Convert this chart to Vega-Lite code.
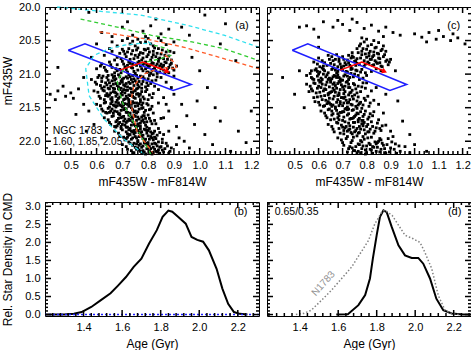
{
"$schema":"https://vega.github.io/schema/vega-lite/v6.json",
"background":"white",
"padding":{"left":0,"top":0,"right":1,"bottom":0},
"config":{"view":{"stroke":"black","strokeWidth":1},"font":"Liberation Sans",
"axis":{"domain":false,"grid":false,"ticks":false,"labelFontSize":11,"titleFontSize":12,"titleFontWeight":"normal","labelColor":"black","titleColor":"black","labelOverlap":false,"labelFlush":false,"labelBound":false,"labelFont":"Liberation Sans","titleFont":"Liberation Sans"}},
"datasets":{
"xaM":[{"v":0.5},{"v":0.6},{"v":0.7},{"v":0.8},{"v":0.9},{"v":1.0},{"v":1.1},{"v":1.2}],
"xcM":[{"v":0.4},{"v":0.5},{"v":0.6},{"v":0.7},{"v":0.8},{"v":0.9},{"v":1.0},{"v":1.1},{"v":1.2}],
"xam":[{"v":0.42},{"v":0.44},{"v":0.46},{"v":0.48},{"v":0.52},{"v":0.54},{"v":0.56},{"v":0.58},{"v":0.62},{"v":0.64},{"v":0.66},{"v":0.68},{"v":0.72},{"v":0.74},{"v":0.76},{"v":0.78},{"v":0.82},{"v":0.84},{"v":0.86},{"v":0.88},{"v":0.92},{"v":0.94},{"v":0.96},{"v":0.98},{"v":1.02},{"v":1.04},{"v":1.06},{"v":1.08},{"v":1.12},{"v":1.14},{"v":1.16},{"v":1.18},{"v":1.22}],
"ymM":[{"v":20.5},{"v":21.0},{"v":21.5},{"v":22.0}],
"ymm":[{"v":20.1},{"v":20.2},{"v":20.3},{"v":20.4},{"v":20.6},{"v":20.7},{"v":20.8},{"v":20.9},{"v":21.1},{"v":21.2},{"v":21.3},{"v":21.4},{"v":21.6},{"v":21.7},{"v":21.8},{"v":21.9},{"v":22.1}],
"agM":[{"v":1.4},{"v":1.6},{"v":1.8},{"v":2.0},{"v":2.2}],
"agm":[{"v":1.24},{"v":1.28},{"v":1.32},{"v":1.36},{"v":1.44},{"v":1.48},{"v":1.52},{"v":1.56},{"v":1.64},{"v":1.68},{"v":1.72},{"v":1.76},{"v":1.84},{"v":1.88},{"v":1.92},{"v":1.96},{"v":2.04},{"v":2.08},{"v":2.12},{"v":2.16},{"v":2.24},{"v":2.28}],
"ydM":[{"v":0.0},{"v":0.5},{"v":1.0},{"v":1.5},{"v":2.0},{"v":2.5},{"v":3.0}],
"ydm":[{"v":0.1},{"v":0.2},{"v":0.3},{"v":0.4},{"v":0.6},{"v":0.7},{"v":0.8},{"v":0.9},{"v":1.1},{"v":1.2},{"v":1.3},{"v":1.4},{"v":1.6},{"v":1.7},{"v":1.8},{"v":1.9},{"v":2.1},{"v":2.2},{"v":2.3},{"v":2.4},{"v":2.6},{"v":2.7},{"v":2.8},{"v":2.9},{"v":3.1}],
"a_pts":[
{"c":0.62,"m":20.38},{"c":0.70,"m":20.30},{"c":0.74,"m":20.42},{"c":0.78,"m":20.36},{"c":0.81,"m":20.28},{"c":0.85,"m":20.40},{"c":0.72,"m":20.22},{"c":0.88,"m":20.33},{"c":0.66,"m":20.44},{"c":0.79,"m":20.44},{"c":0.83,"m":20.18},{"c":0.93,"m":20.30},{"c":1.02,"m":20.12},{"c":0.57,"m":20.08},{"c":1.10,"m":20.25},{"c":0.96,"m":20.42},
{"c":0.70,"m":20.50},{"c":0.73,"m":20.55},{"c":0.76,"m":20.48},{"c":0.79,"m":20.52},{"c":0.82,"m":20.58},{"c":0.85,"m":20.50},{"c":0.68,"m":20.58},{"c":0.75,"m":20.58},{"c":0.80,"m":20.47},{"c":0.87,"m":20.56},{"c":0.72,"m":20.47},{"c":0.77,"m":20.53},{"c":0.84,"m":20.46},{"c":0.66,"m":20.52},{"c":0.90,"m":20.52},{"c":0.81,"m":20.55},{"c":0.74,"m":20.51},
{"c":0.63,"m":20.72},{"c":0.66,"m":20.66},{"c":0.68,"m":20.75},{"c":0.70,"m":20.63},{"c":0.71,"m":20.70},{"c":0.73,"m":20.78},{"c":0.74,"m":20.65},{"c":0.75,"m":20.72},{"c":0.76,"m":20.61},{"c":0.77,"m":20.68},{"c":0.78,"m":20.76},{"c":0.79,"m":20.64},{"c":0.80,"m":20.71},{"c":0.81,"m":20.79},{"c":0.82,"m":20.66},{"c":0.83,"m":20.74},{"c":0.84,"m":20.62},{"c":0.85,"m":20.70},{"c":0.86,"m":20.77},{"c":0.87,"m":20.67},{"c":0.88,"m":20.73},{"c":0.89,"m":20.79},{"c":0.67,"m":20.79},{"c":0.72,"m":20.67},{"c":0.76,"m":20.75},{"c":0.80,"m":20.62},{"c":0.84,"m":20.78},{"c":0.65,"m":20.62},{"c":0.78,"m":20.69},{"c":0.82,"m":20.71},{"c":0.90,"m":20.68},{"c":0.69,"m":20.69},
{"c":0.60,"m":20.92},{"c":0.62,"m":20.85},{"c":0.64,"m":20.96},{"c":0.65,"m":20.82},{"c":0.66,"m":20.90},{"c":0.67,"m":20.98},{"c":0.68,"m":20.86},{"c":0.69,"m":20.93},{"c":0.70,"m":20.81},{"c":0.71,"m":20.89},{"c":0.72,"m":20.97},{"c":0.73,"m":20.84},{"c":0.74,"m":20.91},{"c":0.75,"m":20.99},{"c":0.76,"m":20.83},{"c":0.77,"m":20.88},{"c":0.78,"m":20.95},{"c":0.79,"m":20.82},{"c":0.80,"m":20.90},{"c":0.81,"m":20.86},{"c":0.82,"m":20.93},{"c":0.83,"m":20.88},{"c":0.84,"m":20.81},{"c":0.85,"m":20.92},{"c":0.86,"m":20.87},{"c":0.87,"m":20.96},{"c":0.88,"m":20.90},{"c":0.89,"m":20.84},{"c":0.90,"m":20.94},{"c":0.91,"m":20.88},{"c":0.80,"m":20.97},{"c":0.83,"m":20.95},{"c":0.85,"m":20.85},{"c":0.87,"m":20.83},{"c":0.79,"m":20.92},{"c":0.82,"m":20.84},{"c":0.86,"m":20.94},{"c":0.76,"m":20.94},{"c":0.72,"m":20.87},{"c":0.68,"m":20.95},{"c":0.63,"m":20.90},{"c":0.74,"m":20.85},{"c":0.81,"m":20.99},{"c":0.88,"m":20.98},{"c":0.78,"m":20.86},
{"c":0.58,"m":21.08},{"c":0.60,"m":21.15},{"c":0.61,"m":21.02},{"c":0.62,"m":21.11},{"c":0.63,"m":21.19},{"c":0.64,"m":21.05},{"c":0.65,"m":21.13},{"c":0.66,"m":21.01},{"c":0.67,"m":21.09},{"c":0.68,"m":21.17},{"c":0.69,"m":21.04},{"c":0.70,"m":21.12},{"c":0.71,"m":21.18},{"c":0.72,"m":21.06},{"c":0.73,"m":21.14},{"c":0.74,"m":21.02},{"c":0.75,"m":21.10},{"c":0.76,"m":21.16},{"c":0.77,"m":21.03},{"c":0.78,"m":21.11},{"c":0.79,"m":21.19},{"c":0.80,"m":21.07},{"c":0.81,"m":21.14},{"c":0.82,"m":21.01},{"c":0.83,"m":21.09},{"c":0.85,"m":21.05},{"c":0.87,"m":21.12},{"c":0.64,"m":21.16},{"c":0.67,"m":21.03},{"c":0.70,"m":21.08},{"c":0.72,"m":21.19},{"c":0.74,"m":21.12},{"c":0.76,"m":21.06},{"c":0.66,"m":21.10},{"c":0.69,"m":21.14},{"c":0.78,"m":21.04},{"c":0.80,"m":21.17},{"c":0.62,"m":21.06},{"c":0.73,"m":21.04},{"c":0.90,"m":21.03},
{"c":0.59,"m":21.25},{"c":0.61,"m":21.33},{"c":0.62,"m":21.21},{"c":0.63,"m":21.38},{"c":0.64,"m":21.29},{"c":0.65,"m":21.22},{"c":0.66,"m":21.35},{"c":0.67,"m":21.27},{"c":0.68,"m":21.39},{"c":0.69,"m":21.23},{"c":0.70,"m":21.31},{"c":0.71,"m":21.37},{"c":0.72,"m":21.24},{"c":0.73,"m":21.32},{"c":0.74,"m":21.28},{"c":0.75,"m":21.36},{"c":0.76,"m":21.21},{"c":0.77,"m":21.30},{"c":0.78,"m":21.34},{"c":0.79,"m":21.26},{"c":0.80,"m":21.38},{"c":0.82,"m":21.29},{"c":0.84,"m":21.23},{"c":0.65,"m":21.31},{"c":0.67,"m":21.22},{"c":0.69,"m":21.34},{"c":0.71,"m":21.28},{"c":0.73,"m":21.21},{"c":0.75,"m":21.25},{"c":0.68,"m":21.30},{"c":0.70,"m":21.26},{"c":0.72,"m":21.36},{"c":0.74,"m":21.33},{"c":0.63,"m":21.25},{"c":0.77,"m":21.38},{"c":0.86,"m":21.35},{"c":0.66,"m":21.39},{"c":0.76,"m":21.29},
{"c":0.60,"m":21.45},{"c":0.62,"m":21.52},{"c":0.63,"m":21.43},{"c":0.64,"m":21.58},{"c":0.65,"m":21.49},{"c":0.66,"m":21.41},{"c":0.67,"m":21.55},{"c":0.68,"m":21.47},{"c":0.69,"m":21.59},{"c":0.70,"m":21.42},{"c":0.71,"m":21.51},{"c":0.72,"m":21.57},{"c":0.73,"m":21.44},{"c":0.74,"m":21.53},{"c":0.75,"m":21.48},{"c":0.76,"m":21.56},{"c":0.77,"m":21.41},{"c":0.78,"m":21.50},{"c":0.79,"m":21.54},{"c":0.80,"m":21.46},{"c":0.82,"m":21.58},{"c":0.84,"m":21.43},{"c":0.66,"m":21.52},{"c":0.68,"m":21.56},{"c":0.70,"m":21.49},{"c":0.72,"m":21.45},{"c":0.74,"m":21.41},{"c":0.76,"m":21.47},{"c":0.71,"m":21.44},{"c":0.73,"m":21.58},{"c":0.69,"m":21.46},{"c":0.75,"m":21.55},{"c":0.65,"m":21.57},{"c":0.78,"m":21.43},{"c":0.67,"m":21.47},{"c":0.81,"m":21.52},
{"c":0.63,"m":21.65},{"c":0.65,"m":21.72},{"c":0.66,"m":21.63},{"c":0.67,"m":21.78},{"c":0.68,"m":21.69},{"c":0.69,"m":21.61},{"c":0.70,"m":21.75},{"c":0.71,"m":21.67},{"c":0.72,"m":21.79},{"c":0.73,"m":21.62},{"c":0.74,"m":21.71},{"c":0.75,"m":21.77},{"c":0.76,"m":21.64},{"c":0.77,"m":21.73},{"c":0.78,"m":21.68},{"c":0.79,"m":21.76},{"c":0.80,"m":21.61},{"c":0.81,"m":21.70},{"c":0.83,"m":21.74},{"c":0.85,"m":21.66},{"c":0.70,"m":21.64},{"c":0.72,"m":21.70},{"c":0.74,"m":21.66},{"c":0.76,"m":21.74},{"c":0.78,"m":21.62},{"c":0.71,"m":21.76},{"c":0.73,"m":21.69},{"c":0.75,"m":21.63},{"c":0.77,"m":21.78},{"c":0.69,"m":21.72},{"c":0.79,"m":21.66},{"c":0.68,"m":21.77},
{"c":0.67,"m":21.85},{"c":0.69,"m":21.92},{"c":0.70,"m":21.83},{"c":0.71,"m":21.98},{"c":0.72,"m":21.89},{"c":0.73,"m":21.81},{"c":0.74,"m":21.95},{"c":0.75,"m":21.87},{"c":0.76,"m":21.99},{"c":0.77,"m":21.82},{"c":0.78,"m":21.91},{"c":0.79,"m":21.97},{"c":0.80,"m":21.84},{"c":0.81,"m":21.93},{"c":0.82,"m":21.88},{"c":0.83,"m":21.96},{"c":0.84,"m":21.81},{"c":0.86,"m":21.90},{"c":0.74,"m":21.86},{"c":0.76,"m":21.84},{"c":0.78,"m":21.96},{"c":0.80,"m":21.92},{"c":0.72,"m":21.94},{"c":0.77,"m":21.88},{"c":0.79,"m":21.83},{"c":0.75,"m":21.93},{"c":0.81,"m":21.86},{"c":0.73,"m":21.90},{"c":0.82,"m":21.98},{"c":0.88,"m":21.85},
{"c":0.70,"m":22.05},{"c":0.72,"m":22.12},{"c":0.73,"m":22.03},{"c":0.74,"m":22.18},{"c":0.75,"m":22.09},{"c":0.76,"m":22.01},{"c":0.77,"m":22.15},{"c":0.78,"m":22.07},{"c":0.79,"m":22.19},{"c":0.80,"m":22.02},{"c":0.81,"m":22.11},{"c":0.82,"m":22.17},{"c":0.83,"m":22.04},{"c":0.84,"m":22.13},{"c":0.85,"m":22.08},{"c":0.86,"m":22.16},{"c":0.87,"m":22.03},{"c":0.89,"m":22.10},{"c":0.76,"m":22.10},{"c":0.78,"m":22.14},{"c":0.80,"m":22.06},{"c":0.82,"m":22.09},{"c":0.74,"m":22.06},{"c":0.79,"m":22.03},{"c":0.81,"m":22.17},{"c":0.77,"m":22.04},{"c":0.83,"m":22.15},{"c":0.84,"m":22.01},
{"c":0.42,"m":21.30},{"c":0.45,"m":21.25},{"c":0.48,"m":21.33},{"c":0.50,"m":21.28},{"c":0.53,"m":21.22},{"c":0.44,"m":21.38},{"c":0.51,"m":21.36},{"c":0.47,"m":21.18},{"c":0.55,"m":21.45},{"c":0.52,"m":21.60},{"c":0.56,"m":21.85},{"c":0.90,"m":21.30},{"c":0.93,"m":21.45},{"c":0.95,"m":21.62},{"c":0.98,"m":21.75},{"c":1.02,"m":21.90},{"c":1.05,"m":22.05},{"c":0.92,"m":21.95},{"c":0.96,"m":22.10},{"c":1.08,"m":21.70},{"c":1.12,"m":22.15},{"c":1.15,"m":21.85},{"c":1.18,"m":22.02},{"c":1.20,"m":21.55},{"c":0.88,"m":21.55},{"c":0.91,"m":21.78},{"c":0.94,"m":22.00},{"c":0.99,"m":21.40},{"c":1.03,"m":21.20},{"c":1.06,"m":21.50},{"c":0.60,"m":20.55},{"c":0.58,"m":20.75},{"c":0.55,"m":21.05},{"c":0.97,"m":20.75},{"c":1.00,"m":20.95},{"c":1.08,"m":20.55},{"c":1.14,"m":20.80},{"c":0.45,"m":20.90},{"c":0.88,"m":22.18},{"c":0.91,"m":22.05},{"c":0.86,"m":21.65},{"c":0.87,"m":21.45},{"c":0.89,"m":21.20},{"c":0.57,"m":21.55},{"c":0.59,"m":21.75},{"c":0.62,"m":21.95},
{"c":0.705,"m":20.66},{"c":0.715,"m":20.74},{"c":0.725,"m":20.62},{"c":0.735,"m":20.70},{"c":0.745,"m":20.77},{"c":0.755,"m":20.64},{"c":0.765,"m":20.71},{"c":0.775,"m":20.79},{"c":0.785,"m":20.63},{"c":0.795,"m":20.74},{"c":0.805,"m":20.67},{"c":0.815,"m":20.75},{"c":0.825,"m":20.61},{"c":0.835,"m":20.69},{"c":0.845,"m":20.76},{"c":0.855,"m":20.64},{"c":0.865,"m":20.72},{"c":0.875,"m":20.78},{"c":0.885,"m":20.66},{"c":0.695,"m":20.77},
{"c":0.615,"m":20.88},{"c":0.635,"m":20.94},{"c":0.655,"m":20.86},{"c":0.675,"m":20.92},{"c":0.695,"m":20.98},{"c":0.705,"m":20.85},{"c":0.715,"m":20.93},{"c":0.725,"m":20.82},{"c":0.735,"m":20.90},{"c":0.745,"m":20.96},{"c":0.755,"m":20.87},{"c":0.765,"m":20.81},{"c":0.775,"m":20.92},{"c":0.785,"m":20.84},{"c":0.795,"m":20.97},{"c":0.805,"m":20.88},{"c":0.815,"m":20.83},{"c":0.825,"m":20.91},{"c":0.835,"m":20.85},{"c":0.845,"m":20.97},{"c":0.855,"m":20.89},{"c":0.865,"m":20.82},{"c":0.875,"m":20.92},{"c":0.885,"m":20.86},{"c":0.895,"m":20.91},{"c":0.815,"m":20.95},{"c":0.845,"m":20.88},{"c":0.865,"m":20.99},{"c":0.795,"m":20.86},{"c":0.835,"m":20.99},
{"c":0.595,"m":21.12},{"c":0.605,"m":21.05},{"c":0.615,"m":21.17},{"c":0.625,"m":21.03},{"c":0.635,"m":21.13},{"c":0.645,"m":21.09},{"c":0.655,"m":21.18},{"c":0.665,"m":21.05},{"c":0.675,"m":21.14},{"c":0.685,"m":21.01},{"c":0.695,"m":21.10},{"c":0.705,"m":21.16},{"c":0.715,"m":21.04},{"c":0.725,"m":21.12},{"c":0.735,"m":21.08},{"c":0.745,"m":21.17},{"c":0.755,"m":21.02},{"c":0.765,"m":21.11},{"c":0.775,"m":21.15},{"c":0.785,"m":21.07},{"c":0.795,"m":21.13},{"c":0.805,"m":21.02},{"c":0.815,"m":21.10},{"c":0.825,"m":21.18},{"c":0.835,"m":21.04},{"c":0.645,"m":21.02},{"c":0.665,"m":21.15},{"c":0.685,"m":21.19},{"c":0.705,"m":21.06},{"c":0.725,"m":21.01},{"c":0.745,"m":21.07},{"c":0.765,"m":21.19},{"c":0.675,"m":21.07},{"c":0.715,"m":21.14},{"c":0.755,"m":21.13},
{"c":0.605,"m":21.27},{"c":0.615,"m":21.36},{"c":0.625,"m":21.24},{"c":0.635,"m":21.32},{"c":0.645,"m":21.21},{"c":0.655,"m":21.37},{"c":0.665,"m":21.26},{"c":0.675,"m":21.33},{"c":0.685,"m":21.22},{"c":0.695,"m":21.29},{"c":0.705,"m":21.38},{"c":0.715,"m":21.24},{"c":0.725,"m":21.31},{"c":0.735,"m":21.27},{"c":0.745,"m":21.35},{"c":0.755,"m":21.22},{"c":0.765,"m":21.33},{"c":0.775,"m":21.26},{"c":0.785,"m":21.37},{"c":0.795,"m":21.23},{"c":0.805,"m":21.31},{"c":0.815,"m":21.35},{"c":0.645,"m":21.33},{"c":0.665,"m":21.21},{"c":0.685,"m":21.36},{"c":0.705,"m":21.23},{"c":0.725,"m":21.38},{"c":0.745,"m":21.25},{"c":0.675,"m":21.28},{"c":0.695,"m":21.21},{"c":0.715,"m":21.33},{"c":0.735,"m":21.22},{"c":0.755,"m":21.30},{"c":0.655,"m":21.28},{"c":0.775,"m":21.21},
{"c":0.615,"m":21.47},{"c":0.625,"m":21.55},{"c":0.635,"m":21.42},{"c":0.645,"m":21.51},{"c":0.655,"m":21.44},{"c":0.665,"m":21.58},{"c":0.675,"m":21.49},{"c":0.685,"m":21.43},{"c":0.695,"m":21.54},{"c":0.705,"m":21.46},{"c":0.715,"m":21.57},{"c":0.725,"m":21.41},{"c":0.735,"m":21.50},{"c":0.745,"m":21.56},{"c":0.755,"m":21.43},{"c":0.765,"m":21.52},{"c":0.775,"m":21.46},{"c":0.785,"m":21.57},{"c":0.795,"m":21.44},{"c":0.805,"m":21.53},{"c":0.815,"m":21.48},{"c":0.655,"m":21.55},{"c":0.675,"m":21.42},{"c":0.695,"m":21.47},{"c":0.715,"m":21.52},{"c":0.735,"m":21.45},{"c":0.755,"m":21.58},{"c":0.775,"m":21.51},{"c":0.685,"m":21.59},{"c":0.705,"m":21.53},{"c":0.725,"m":21.48},{"c":0.745,"m":21.43},{"c":0.665,"m":21.46},{"c":0.765,"m":21.44},{"c":0.635,"m":21.57},
{"c":0.645,"m":21.68},{"c":0.655,"m":21.75},{"c":0.665,"m":21.62},{"c":0.675,"m":21.71},{"c":0.685,"m":21.66},{"c":0.695,"m":21.78},{"c":0.705,"m":21.63},{"c":0.715,"m":21.72},{"c":0.725,"m":21.67},{"c":0.735,"m":21.76},{"c":0.745,"m":21.61},{"c":0.755,"m":21.69},{"c":0.765,"m":21.77},{"c":0.775,"m":21.64},{"c":0.785,"m":21.72},{"c":0.795,"m":21.79},{"c":0.805,"m":21.66},{"c":0.815,"m":21.74},{"c":0.825,"m":21.69},{"c":0.705,"m":21.70},{"c":0.725,"m":21.61},{"c":0.745,"m":21.75},{"c":0.765,"m":21.67},{"c":0.785,"m":21.62},{"c":0.685,"m":21.74},{"c":0.715,"m":21.79},{"c":0.735,"m":21.64},{"c":0.755,"m":21.78},{"c":0.775,"m":21.70},{"c":0.695,"m":21.65},{"c":0.795,"m":21.71},{"c":0.675,"m":21.79},
{"c":0.685,"m":21.88},{"c":0.695,"m":21.81},{"c":0.705,"m":21.94},{"c":0.715,"m":21.86},{"c":0.725,"m":21.83},{"c":0.735,"m":21.97},{"c":0.745,"m":21.89},{"c":0.755,"m":21.82},{"c":0.765,"m":21.93},{"c":0.775,"m":21.86},{"c":0.785,"m":21.99},{"c":0.795,"m":21.88},{"c":0.805,"m":21.81},{"c":0.815,"m":21.95},{"c":0.825,"m":21.85},{"c":0.835,"m":21.91},{"c":0.845,"m":21.87},{"c":0.855,"m":21.97},{"c":0.725,"m":21.91},{"c":0.745,"m":21.84},{"c":0.765,"m":21.87},{"c":0.785,"m":21.82},{"c":0.805,"m":21.97},{"c":0.755,"m":21.95},{"c":0.775,"m":21.92},{"c":0.795,"m":21.84},{"c":0.715,"m":21.96},{"c":0.735,"m":21.85},{"c":0.815,"m":21.89},{"c":0.825,"m":21.94},
{"c":0.715,"m":22.08},{"c":0.725,"m":22.01},{"c":0.735,"m":22.14},{"c":0.745,"m":22.03},{"c":0.755,"m":22.12},{"c":0.765,"m":22.06},{"c":0.775,"m":22.18},{"c":0.785,"m":22.02},{"c":0.795,"m":22.11},{"c":0.805,"m":22.15},{"c":0.815,"m":22.04},{"c":0.825,"m":22.12},{"c":0.835,"m":22.07},{"c":0.845,"m":22.18},{"c":0.855,"m":22.02},{"c":0.865,"m":22.11},{"c":0.875,"m":22.07},{"c":0.885,"m":22.15},{"c":0.765,"m":22.13},{"c":0.785,"m":22.16},{"c":0.805,"m":22.08},{"c":0.825,"m":22.03},{"c":0.745,"m":22.17},{"c":0.795,"m":22.05},{"c":0.815,"m":22.19},{"c":0.775,"m":22.09},{"c":0.835,"m":22.16},{"c":0.855,"m":22.13},{"c":0.755,"m":22.04},{"c":0.845,"m":22.09}
],
"c_pts":[
{"c":0.52,"m":20.30},{"c":0.55,"m":20.28},{"c":0.58,"m":20.33},{"c":0.62,"m":20.22},{"c":0.66,"m":20.30},{"c":0.70,"m":20.26},{"c":0.73,"m":20.35},{"c":0.76,"m":20.23},{"c":0.79,"m":20.32},{"c":0.82,"m":20.27},{"c":0.85,"m":20.36},{"c":0.88,"m":20.30},{"c":0.91,"m":20.38},{"c":0.94,"m":20.42},{"c":0.68,"m":20.20},{"c":0.74,"m":20.18},{"c":0.87,"m":20.44},{"c":1.00,"m":20.40},{"c":1.03,"m":20.45},{"c":1.06,"m":20.38},{"c":1.09,"m":20.48},{"c":1.12,"m":20.44},{"c":1.15,"m":20.50},{"c":1.18,"m":20.46},{"c":1.21,"m":20.55},{"c":1.05,"m":20.52},{"c":1.10,"m":20.35},{"c":1.16,"m":20.40},{"c":0.60,"m":20.45},{"c":0.78,"m":20.46},
{"c":0.77,"m":20.58},{"c":0.79,"m":20.52},{"c":0.80,"m":20.63},{"c":0.82,"m":20.56},{"c":0.83,"m":20.67},{"c":0.84,"m":20.60},{"c":0.85,"m":20.53},{"c":0.86,"m":20.65},{"c":0.81,"m":20.69},{"c":0.78,"m":20.66},{"c":0.87,"m":20.58},{"c":0.76,"m":20.62},{"c":0.74,"m":20.68},{"c":0.88,"m":20.66},{"c":0.80,"m":20.48},{"c":0.83,"m":20.50},
{"c":0.58,"m":20.82},{"c":0.60,"m":20.76},{"c":0.62,"m":20.88},{"c":0.64,"m":20.72},{"c":0.65,"m":20.84},{"c":0.67,"m":20.78},{"c":0.68,"m":20.89},{"c":0.70,"m":20.74},{"c":0.71,"m":20.83},{"c":0.72,"m":20.79},{"c":0.73,"m":20.87},{"c":0.74,"m":20.73},{"c":0.75,"m":20.81},{"c":0.76,"m":20.77},{"c":0.77,"m":20.86},{"c":0.78,"m":20.71},{"c":0.79,"m":20.80},{"c":0.80,"m":20.75},{"c":0.81,"m":20.84},{"c":0.82,"m":20.78},{"c":0.83,"m":20.72},{"c":0.84,"m":20.82},{"c":0.85,"m":20.76},{"c":0.86,"m":20.88},{"c":0.87,"m":20.74},{"c":0.88,"m":20.81},{"c":0.89,"m":20.86},{"c":0.90,"m":20.78},{"c":0.79,"m":20.88},{"c":0.81,"m":20.73},{"c":0.83,"m":20.86},{"c":0.85,"m":20.70},{"c":0.76,"m":20.84},{"c":0.69,"m":20.85},{"c":0.66,"m":20.80},
{"c":0.55,"m":21.02},{"c":0.57,"m":20.95},{"c":0.58,"m":21.08},{"c":0.59,"m":20.92},{"c":0.60,"m":21.00},{"c":0.61,"m":21.06},{"c":0.62,"m":20.93},{"c":0.63,"m":21.04},{"c":0.64,"m":20.98},{"c":0.65,"m":21.09},{"c":0.66,"m":20.91},{"c":0.67,"m":21.03},{"c":0.68,"m":20.96},{"c":0.69,"m":21.07},{"c":0.70,"m":20.94},{"c":0.71,"m":21.01},{"c":0.72,"m":20.97},{"c":0.73,"m":21.05},{"c":0.74,"m":20.92},{"c":0.75,"m":21.00},{"c":0.76,"m":20.95},{"c":0.77,"m":21.08},{"c":0.78,"m":20.93},{"c":0.80,"m":21.02},{"c":0.82,"m":20.96},{"c":0.84,"m":20.92},{"c":0.62,"m":21.00},{"c":0.64,"m":21.08},{"c":0.66,"m":21.04},{"c":0.68,"m":21.01},{"c":0.70,"m":21.09},{"c":0.72,"m":21.03},{"c":0.67,"m":20.94},{"c":0.60,"m":21.09},{"c":0.57,"m":21.05},{"c":0.86,"m":20.95},
{"c":0.55,"m":21.15},{"c":0.57,"m":21.22},{"c":0.58,"m":21.13},{"c":0.59,"m":21.28},{"c":0.60,"m":21.18},{"c":0.61,"m":21.11},{"c":0.62,"m":21.25},{"c":0.63,"m":21.16},{"c":0.64,"m":21.29},{"c":0.65,"m":21.12},{"c":0.66,"m":21.21},{"c":0.67,"m":21.27},{"c":0.68,"m":21.14},{"c":0.69,"m":21.23},{"c":0.70,"m":21.19},{"c":0.71,"m":21.26},{"c":0.72,"m":21.11},{"c":0.73,"m":21.20},{"c":0.74,"m":21.24},{"c":0.75,"m":21.16},{"c":0.76,"m":21.28},{"c":0.78,"m":21.19},{"c":0.80,"m":21.13},{"c":0.82,"m":21.25},{"c":0.61,"m":21.20},{"c":0.63,"m":21.23},{"c":0.65,"m":21.27},{"c":0.67,"m":21.17},{"c":0.69,"m":21.12},{"c":0.71,"m":21.18},{"c":0.73,"m":21.28},{"c":0.66,"m":21.15},{"c":0.56,"m":21.26},{"c":0.84,"m":21.20},
{"c":0.58,"m":21.35},{"c":0.60,"m":21.42},{"c":0.61,"m":21.33},{"c":0.62,"m":21.48},{"c":0.63,"m":21.39},{"c":0.64,"m":21.31},{"c":0.65,"m":21.45},{"c":0.66,"m":21.37},{"c":0.67,"m":21.49},{"c":0.68,"m":21.32},{"c":0.69,"m":21.41},{"c":0.70,"m":21.47},{"c":0.71,"m":21.34},{"c":0.72,"m":21.43},{"c":0.73,"m":21.38},{"c":0.74,"m":21.46},{"c":0.75,"m":21.31},{"c":0.76,"m":21.40},{"c":0.77,"m":21.44},{"c":0.79,"m":21.36},{"c":0.81,"m":21.48},{"c":0.83,"m":21.39},{"c":0.64,"m":21.41},{"c":0.66,"m":21.46},{"c":0.68,"m":21.38},{"c":0.70,"m":21.35},{"c":0.72,"m":21.49},{"c":0.74,"m":21.33},{"c":0.69,"m":21.44},{"c":0.85,"m":21.45},
{"c":0.61,"m":21.55},{"c":0.63,"m":21.62},{"c":0.64,"m":21.53},{"c":0.65,"m":21.68},{"c":0.66,"m":21.59},{"c":0.67,"m":21.51},{"c":0.68,"m":21.65},{"c":0.69,"m":21.57},{"c":0.70,"m":21.69},{"c":0.71,"m":21.52},{"c":0.72,"m":21.61},{"c":0.73,"m":21.67},{"c":0.74,"m":21.54},{"c":0.75,"m":21.63},{"c":0.76,"m":21.58},{"c":0.77,"m":21.66},{"c":0.78,"m":21.51},{"c":0.79,"m":21.60},{"c":0.81,"m":21.64},{"c":0.83,"m":21.56},{"c":0.85,"m":21.68},{"c":0.70,"m":21.56},{"c":0.72,"m":21.53},{"c":0.74,"m":21.66},{"c":0.76,"m":21.51},{"c":0.68,"m":21.59},{"c":0.78,"m":21.69},{"c":0.87,"m":21.58},
{"c":0.64,"m":21.75},{"c":0.66,"m":21.82},{"c":0.68,"m":21.73},{"c":0.69,"m":21.88},{"c":0.70,"m":21.79},{"c":0.71,"m":21.71},{"c":0.72,"m":21.85},{"c":0.73,"m":21.77},{"c":0.74,"m":21.89},{"c":0.75,"m":21.72},{"c":0.76,"m":21.81},{"c":0.77,"m":21.87},{"c":0.78,"m":21.74},{"c":0.79,"m":21.83},{"c":0.80,"m":21.78},{"c":0.81,"m":21.86},{"c":0.82,"m":21.71},{"c":0.84,"m":21.80},{"c":0.86,"m":21.84},{"c":0.88,"m":21.76},{"c":0.73,"m":21.82},{"c":0.75,"m":21.86},{"c":0.77,"m":21.78},{"c":0.79,"m":21.72},{"c":0.71,"m":21.80},{"c":0.83,"m":21.88},{"c":0.90,"m":21.85},
{"c":0.68,"m":21.95},{"c":0.70,"m":22.02},{"c":0.72,"m":21.93},{"c":0.73,"m":22.08},{"c":0.74,"m":21.99},{"c":0.75,"m":22.14},{"c":0.76,"m":21.92},{"c":0.77,"m":22.05},{"c":0.78,"m":22.11},{"c":0.79,"m":21.97},{"c":0.80,"m":22.17},{"c":0.81,"m":22.03},{"c":0.82,"m":21.94},{"c":0.83,"m":22.09},{"c":0.84,"m":22.15},{"c":0.85,"m":22.00},{"c":0.86,"m":22.12},{"c":0.87,"m":22.06},{"c":0.88,"m":22.18},{"c":0.89,"m":21.96},{"c":0.90,"m":22.10},{"c":0.92,"m":22.04},{"c":0.94,"m":22.15},{"c":0.96,"m":22.08},{"c":0.98,"m":22.17},{"c":0.76,"m":22.18},{"c":0.80,"m":22.07},{"c":0.82,"m":22.13},{"c":0.78,"m":22.01},{"c":0.84,"m":22.04},{"c":0.86,"m":21.98},{"c":0.74,"m":22.10},{"c":0.91,"m":21.93},{"c":0.72,"m":22.16},
{"c":0.45,"m":21.05},{"c":0.50,"m":21.30},{"c":0.93,"m":21.40},{"c":0.95,"m":21.70},{"c":0.98,"m":21.90},{"c":1.00,"m":22.05},{"c":0.88,"m":21.30},{"c":0.60,"m":20.60},{"c":0.92,"m":20.95},{"c":1.05,"m":22.15},{"c":0.52,"m":20.95},{"c":0.54,"m":21.50},
{"c":0.775,"m":20.55},{"c":0.785,"m":20.62},{"c":0.795,"m":20.70},{"c":0.805,"m":20.58},{"c":0.815,"m":20.66},{"c":0.825,"m":20.74},{"c":0.835,"m":20.61},{"c":0.845,"m":20.69},{"c":0.855,"m":20.77},{"c":0.865,"m":20.63},{"c":0.875,"m":20.71},{"c":0.885,"m":20.79},{"c":0.805,"m":20.82},{"c":0.825,"m":20.87},{"c":0.845,"m":20.84},{"c":0.865,"m":20.89},{"c":0.815,"m":20.78},{"c":0.835,"m":20.80},{"c":0.855,"m":20.83},{"c":0.795,"m":20.85},{"c":0.775,"m":20.76},{"c":0.765,"m":20.68},{"c":0.755,"m":20.80},{"c":0.745,"m":20.75},{"c":0.895,"m":20.82},
{"c":0.595,"m":20.85},{"c":0.615,"m":20.80},{"c":0.635,"m":20.87},{"c":0.645,"m":20.78},{"c":0.665,"m":20.86},{"c":0.685,"m":20.81},{"c":0.695,"m":20.89},{"c":0.705,"m":20.78},{"c":0.715,"m":20.86},{"c":0.725,"m":20.83},{"c":0.735,"m":20.76},{"c":0.655,"m":20.74},{"c":0.675,"m":20.71},{"c":0.625,"m":20.83},{"c":0.705,"m":20.88},{"c":0.735,"m":20.89},{"c":0.605,"m":20.89},{"c":0.685,"m":20.77},{"c":0.725,"m":20.72},{"c":0.755,"m":20.87},
{"c":0.565,"m":20.99},{"c":0.575,"m":21.07},{"c":0.585,"m":20.94},{"c":0.595,"m":21.03},{"c":0.605,"m":20.97},{"c":0.615,"m":21.08},{"c":0.625,"m":20.95},{"c":0.635,"m":21.01},{"c":0.645,"m":21.06},{"c":0.655,"m":20.93},{"c":0.665,"m":21.02},{"c":0.675,"m":20.98},{"c":0.685,"m":21.05},{"c":0.695,"m":20.92},{"c":0.705,"m":21.03},{"c":0.715,"m":20.96},{"c":0.725,"m":21.08},{"c":0.735,"m":20.99},{"c":0.745,"m":21.04},{"c":0.755,"m":20.94},{"c":0.765,"m":21.02},{"c":0.775,"m":20.97},{"c":0.785,"m":21.06},{"c":0.795,"m":20.98},{"c":0.615,"m":20.91},{"c":0.655,"m":21.07},{"c":0.695,"m":21.09},{"c":0.735,"m":20.93},{"c":0.595,"m":20.96},{"c":0.675,"m":21.05},
{"c":0.565,"m":21.18},{"c":0.575,"m":21.25},{"c":0.585,"m":21.14},{"c":0.595,"m":21.21},{"c":0.605,"m":21.27},{"c":0.615,"m":21.15},{"c":0.625,"m":21.22},{"c":0.635,"m":21.12},{"c":0.645,"m":21.19},{"c":0.655,"m":21.26},{"c":0.665,"m":21.13},{"c":0.675,"m":21.21},{"c":0.685,"m":21.28},{"c":0.695,"m":21.16},{"c":0.705,"m":21.23},{"c":0.715,"m":21.12},{"c":0.725,"m":21.20},{"c":0.735,"m":21.27},{"c":0.745,"m":21.14},{"c":0.755,"m":21.22},{"c":0.765,"m":21.18},{"c":0.775,"m":21.26},{"c":0.785,"m":21.13},{"c":0.795,"m":21.21},{"c":0.605,"m":21.12},{"c":0.645,"m":21.28},{"c":0.685,"m":21.11},{"c":0.725,"m":21.15},{"c":0.665,"m":21.24},{"c":0.705,"m":21.29},
{"c":0.585,"m":21.41},{"c":0.595,"m":21.34},{"c":0.605,"m":21.46},{"c":0.615,"m":21.38},{"c":0.625,"m":21.32},{"c":0.635,"m":21.44},{"c":0.645,"m":21.36},{"c":0.655,"m":21.48},{"c":0.665,"m":21.33},{"c":0.675,"m":21.42},{"c":0.685,"m":21.47},{"c":0.695,"m":21.35},{"c":0.705,"m":21.43},{"c":0.715,"m":21.39},{"c":0.725,"m":21.31},{"c":0.735,"m":21.45},{"c":0.745,"m":21.37},{"c":0.755,"m":21.48},{"c":0.765,"m":21.34},{"c":0.775,"m":21.42},{"c":0.785,"m":21.46},{"c":0.795,"m":21.39},{"c":0.805,"m":21.33},{"c":0.815,"m":21.43},{"c":0.645,"m":21.43},{"c":0.685,"m":21.31},{"c":0.725,"m":21.42},{"c":0.765,"m":21.46},{"c":0.705,"m":21.36},{"c":0.625,"m":21.47},
{"c":0.625,"m":21.58},{"c":0.635,"m":21.65},{"c":0.645,"m":21.52},{"c":0.655,"m":21.61},{"c":0.665,"m":21.67},{"c":0.675,"m":21.54},{"c":0.685,"m":21.62},{"c":0.695,"m":21.57},{"c":0.705,"m":21.64},{"c":0.715,"m":21.51},{"c":0.725,"m":21.59},{"c":0.735,"m":21.66},{"c":0.745,"m":21.53},{"c":0.755,"m":21.61},{"c":0.765,"m":21.68},{"c":0.775,"m":21.56},{"c":0.785,"m":21.63},{"c":0.795,"m":21.55},{"c":0.805,"m":21.67},{"c":0.815,"m":21.59},{"c":0.825,"m":21.62},{"c":0.685,"m":21.68},{"c":0.725,"m":21.52},{"c":0.765,"m":21.59},{"c":0.705,"m":21.56},{"c":0.745,"m":21.65},{"c":0.655,"m":21.55},{"c":0.785,"m":21.69},
{"c":0.655,"m":21.78},{"c":0.665,"m":21.86},{"c":0.675,"m":21.72},{"c":0.685,"m":21.81},{"c":0.695,"m":21.76},{"c":0.705,"m":21.84},{"c":0.715,"m":21.78},{"c":0.725,"m":21.73},{"c":0.735,"m":21.87},{"c":0.745,"m":21.79},{"c":0.755,"m":21.84},{"c":0.765,"m":21.71},{"c":0.775,"m":21.82},{"c":0.785,"m":21.77},{"c":0.795,"m":21.89},{"c":0.805,"m":21.75},{"c":0.815,"m":21.82},{"c":0.825,"m":21.78},{"c":0.835,"m":21.85},{"c":0.845,"m":21.73},{"c":0.855,"m":21.81},{"c":0.865,"m":21.77},{"c":0.725,"m":21.83},{"c":0.765,"m":21.88},{"c":0.805,"m":21.86},{"c":0.745,"m":21.72},{"c":0.785,"m":21.74},{"c":0.705,"m":21.89},
{"c":0.695,"m":21.98},{"c":0.705,"m":22.06},{"c":0.715,"m":21.96},{"c":0.725,"m":22.11},{"c":0.735,"m":22.02},{"c":0.745,"m":21.94},{"c":0.755,"m":22.08},{"c":0.765,"m":22.15},{"c":0.775,"m":21.99},{"c":0.785,"m":22.07},{"c":0.795,"m":22.13},{"c":0.805,"m":21.95},{"c":0.815,"m":22.05},{"c":0.825,"m":22.18},{"c":0.835,"m":22.01},{"c":0.845,"m":22.09},{"c":0.855,"m":22.16},{"c":0.865,"m":22.03},{"c":0.875,"m":22.11},{"c":0.885,"m":22.05},{"c":0.895,"m":22.16},{"c":0.905,"m":22.01},{"c":0.915,"m":22.12},{"c":0.925,"m":22.18},{"c":0.935,"m":22.07},{"c":0.765,"m":22.04},{"c":0.795,"m":22.19},{"c":0.825,"m":22.08},{"c":0.855,"m":21.96},{"c":0.875,"m":22.17},{"c":0.745,"m":22.14},{"c":0.785,"m":21.93},{"c":0.815,"m":22.12},{"c":0.845,"m":22.02},{"c":0.775,"m":22.17}
],
"iso":[
{"iso":"1.60","s":"u","o":1,"c":0.447,"m":20.0},{"iso":"1.60","s":"u","o":2,"c":0.63,"m":20.07},{"iso":"1.60","s":"u","o":3,"c":0.77,"m":20.12},{"iso":"1.60","s":"u","o":4,"c":0.95,"m":20.27},{"iso":"1.60","s":"u","o":5,"c":1.094,"m":20.42},{"iso":"1.60","s":"u","o":6,"c":1.23,"m":20.6},
{"iso":"1.60","s":"l","o":1,"c":0.784,"m":22.19},{"iso":"1.60","s":"l","o":2,"c":0.706,"m":21.97},{"iso":"1.60","s":"l","o":3,"c":0.629,"m":21.67},{"iso":"1.60","s":"l","o":4,"c":0.571,"m":21.32},{"iso":"1.60","s":"l","o":5,"c":0.558,"m":20.92},{"iso":"1.60","s":"l","o":6,"c":0.59,"m":20.72},{"iso":"1.60","s":"l","o":7,"c":0.65,"m":20.62},{"iso":"1.60","s":"l","o":8,"c":0.706,"m":20.57},{"iso":"1.60","s":"l","o":9,"c":0.77,"m":20.54},{"iso":"1.60","s":"l","o":10,"c":0.81,"m":20.55},{"iso":"1.60","s":"l","o":11,"c":0.79,"m":20.48},{"iso":"1.60","s":"l","o":12,"c":0.77,"m":20.44},
{"iso":"1.85","s":"u","o":1,"c":0.538,"m":20.18},{"iso":"1.85","s":"u","o":2,"c":0.68,"m":20.3},{"iso":"1.85","s":"u","o":3,"c":0.81,"m":20.42},{"iso":"1.85","s":"u","o":4,"c":0.97,"m":20.52},{"iso":"1.85","s":"u","o":5,"c":1.094,"m":20.62},{"iso":"1.85","s":"u","o":6,"c":1.23,"m":20.8},
{"iso":"1.85","s":"l","o":1,"c":0.81,"m":22.19},{"iso":"1.85","s":"l","o":2,"c":0.758,"m":21.82},{"iso":"1.85","s":"l","o":3,"c":0.70,"m":21.42},{"iso":"1.85","s":"l","o":4,"c":0.68,"m":21.12},{"iso":"1.85","s":"l","o":5,"c":0.706,"m":20.92},{"iso":"1.85","s":"l","o":6,"c":0.758,"m":20.85},{"iso":"1.85","s":"l","o":7,"c":0.849,"m":20.77},{"iso":"1.85","s":"l","o":8,"c":0.888,"m":20.72},{"iso":"1.85","s":"l","o":9,"c":0.874,"m":20.62},{"iso":"1.85","s":"l","o":10,"c":0.823,"m":20.57},
{"iso":"2.05","s":"u","o":1,"c":0.61,"m":20.37},{"iso":"2.05","s":"u","o":2,"c":0.784,"m":20.47},{"iso":"2.05","s":"u","o":3,"c":0.94,"m":20.6},{"iso":"2.05","s":"u","o":4,"c":1.094,"m":20.77},{"iso":"2.05","s":"u","o":5,"c":1.23,"m":20.92},
{"iso":"2.05","s":"l","o":1,"c":0.823,"m":22.19},{"iso":"2.05","s":"l","o":2,"c":0.758,"m":21.87},{"iso":"2.05","s":"l","o":3,"c":0.732,"m":21.42},{"iso":"2.05","s":"l","o":4,"c":0.745,"m":21.17},{"iso":"2.05","s":"l","o":5,"c":0.784,"m":21.0},{"iso":"2.05","s":"l","o":6,"c":0.849,"m":20.9},{"iso":"2.05","s":"l","o":7,"c":0.913,"m":20.92},{"iso":"2.05","s":"l","o":8,"c":0.90,"m":20.82},{"iso":"2.05","s":"l","o":9,"c":0.849,"m":20.67}
],
"box":[{"o":1,"c":0.49,"m":20.645},{"o":2,"c":0.555,"m":20.548},{"o":3,"c":0.967,"m":21.154},{"o":4,"c":0.897,"m":21.243},{"o":5,"c":0.49,"m":20.645}],
"arrow":[{"o":1,"c":0.69,"m":20.94},{"o":2,"c":0.78,"m":20.82},{"o":3,"c":0.87,"m":20.95}],
"bcurve":[{"age":1.2,"d":0.0},{"age":1.3,"d":0.0},{"age":1.35,"d":0.02},{"age":1.39,"d":0.07},{"age":1.44,"d":0.21},{"age":1.49,"d":0.40},{"age":1.54,"d":0.59},{"age":1.58,"d":0.81},{"age":1.62,"d":1.04},{"age":1.66,"d":1.32},{"age":1.70,"d":1.55},{"age":1.74,"d":1.97},{"age":1.78,"d":2.34},{"age":1.81,"d":2.71},{"age":1.84,"d":2.88},{"age":1.86,"d":2.85},{"age":1.89,"d":2.71},{"age":1.93,"d":2.52},{"age":1.96,"d":2.15},{"age":1.99,"d":2.07},{"age":2.02,"d":2.02},{"age":2.05,"d":1.78},{"age":2.09,"d":1.27},{"age":2.12,"d":0.72},{"age":2.15,"d":0.30},{"age":2.18,"d":0.07},{"age":2.21,"d":0.02},{"age":2.25,"d":0.0}],
"dcurve":[{"age":1.59,"d":0.0},{"age":1.65,"d":0.01},{"age":1.705,"d":0.26},{"age":1.74,"d":0.54},{"age":1.765,"d":1.0},{"age":1.78,"d":1.55},{"age":1.80,"d":2.2},{"age":1.817,"d":2.71},{"age":1.835,"d":2.89},{"age":1.852,"d":2.84},{"age":1.878,"d":2.43},{"age":1.913,"d":1.92},{"age":1.947,"d":1.64},{"age":1.982,"d":1.57},{"age":2.016,"d":1.57},{"age":2.042,"d":1.41},{"age":2.077,"d":1.0},{"age":2.11,"d":0.44},{"age":2.146,"d":0.12},{"age":2.19,"d":0.03},{"age":2.25,"d":0.0},{"age":2.29,"d":0.0}],
"ddot":[{"age":1.38,"d":0.0},{"age":1.42,"d":0.03},{"age":1.46,"d":0.12},{"age":1.514,"d":0.40},{"age":1.566,"d":0.68},{"age":1.618,"d":1.0},{"age":1.67,"d":1.32},{"age":1.72,"d":1.74},{"age":1.757,"d":2.05},{"age":1.79,"d":2.51},{"age":1.826,"d":2.84},{"age":1.843,"d":2.89},{"age":1.88,"d":2.75},{"age":1.913,"d":2.48},{"age":1.947,"d":2.2},{"age":1.99,"d":2.1},{"age":2.025,"d":2.0},{"age":2.05,"d":1.73},{"age":2.086,"d":1.27},{"age":2.12,"d":0.53},{"age":2.155,"d":0.12},{"age":2.19,"d":0.03},{"age":2.23,"d":0.0}]
},
"spacing":3,
"vconcat":[
{"spacing":0,"hconcat":[
{"width":214,"height":147,"resolve":{"axis":{"x":"independent","y":"independent"}},
"layer":[
{"data":{"name":"a_pts"},"mark":{"type":"point","shape":"square","filled":true,"size":8,"color":"black","opacity":1},
"encoding":{"x":{"field":"c","type":"quantitative","scale":{"domain":[0.4,1.23],"nice":false,"zero":false},
"axis":{"orient":"bottom","values":[0.5,0.6,0.7,0.8,0.9,1.0,1.1,1.2],"format":".1f","labelPadding":5,"title":"mF435W - mF814W","titlePadding":6}},
"y":{"field":"m","type":"quantitative","scale":{"domain":[20,22.19],"reverse":true,"nice":false,"zero":false},
"axis":{"orient":"left","values":[20,20.5,21,21.5,22],"format":".1f","labelPadding":5,"title":"mF435W","titlePadding":4,"minExtent":27,"maxExtent":27}}}},
{"data":{"name":"box"},"mark":{"type":"line","color":"#1f1fff","strokeWidth":1.5},
"encoding":{"x":{"field":"c","type":"quantitative","scale":{"domain":[0.4,1.23],"nice":false,"zero":false},"axis":null},
"y":{"field":"m","type":"quantitative","scale":{"domain":[20,22.19],"reverse":true,"nice":false,"zero":false},"axis":null},
"order":{"field":"o","type":"quantitative"}}},
{"data":{"name":"iso"},"mark":{"type":"line","strokeDash":[4,3],"strokeWidth":1.3},
"encoding":{"x":{"field":"c","type":"quantitative","scale":{"domain":[0.4,1.23],"nice":false,"zero":false},"axis":null},
"y":{"field":"m","type":"quantitative","scale":{"domain":[20,22.19],"reverse":true,"nice":false,"zero":false},"axis":null},
"color":{"field":"iso","type":"nominal","scale":{"domain":["1.60","1.85","2.05"],"range":["#30e0ee","#33cc33","#ff5a28"]},"legend":null},
"detail":{"field":"s","type":"nominal"},"order":{"field":"o","type":"quantitative"}}},
{"data":{"name":"arrow"},"mark":{"type":"line","color":"#ff0000","strokeWidth":1.5},
"encoding":{"x":{"field":"c","type":"quantitative","scale":{"domain":[0.4,1.23],"nice":false,"zero":false},"axis":null},
"y":{"field":"m","type":"quantitative","scale":{"domain":[20,22.19],"reverse":true,"nice":false,"zero":false},"axis":null},
"order":{"field":"o","type":"quantitative"}}},
{"data":{"values":[{}]},"mark":{"type":"point","shape":"triangle-right","filled":true,"color":"#ff0000","size":35,"angle":22,"opacity":1},
"encoding":{"x":{"datum":0.875,"type":"quantitative","scale":{"domain":[0.4,1.23],"nice":false,"zero":false},"axis":null},
"y":{"datum":20.96,"type":"quantitative","scale":{"domain":[20,22.19],"reverse":true,"nice":false,"zero":false},"axis":null}}},
{"data":{"values":[{}]},"mark":{"type":"text","text":"(a)","align":"right","baseline":"middle","fontSize":11,"color":"black"},
"encoding":{"x":{"datum":1.19,"type":"quantitative","scale":{"domain":[0.4,1.23],"nice":false,"zero":false},"axis":null},
"y":{"datum":20.28,"type":"quantitative","scale":{"domain":[20,22.19],"reverse":true,"nice":false,"zero":false},"axis":null}}},
{"data":{"values":[{}]},"mark":{"type":"text","text":"NGC 1783","align":"left","baseline":"middle","fontSize":10.5,"color":"black"},
"encoding":{"x":{"datum":0.43,"type":"quantitative","scale":{"domain":[0.4,1.23],"nice":false,"zero":false},"axis":null},
"y":{"datum":21.84,"type":"quantitative","scale":{"domain":[20,22.19],"reverse":true,"nice":false,"zero":false},"axis":null}}},
{"data":{"values":[{}]},"mark":{"type":"text","text":"1.60, 1.85, 2.05","align":"left","baseline":"middle","fontSize":10,"color":"black"},
"encoding":{"x":{"datum":0.43,"type":"quantitative","scale":{"domain":[0.4,1.23],"nice":false,"zero":false},"axis":null},
"y":{"datum":22.01,"type":"quantitative","scale":{"domain":[20,22.19],"reverse":true,"nice":false,"zero":false},"axis":null}}},
{"data":{"name":"xaM"},"mark":{"type":"point","shape":"M0,0V-1","filled":false,"color":"black","strokeWidth":1.5,"opacity":1},
"encoding":{"x":{"field":"v","type":"quantitative","scale":{"domain":[0.4,1.23],"nice":false,"zero":false},"axis":null},
"y":{"datum":22.19,"type":"quantitative","scale":{"domain":[20,22.19],"reverse":true,"nice":false,"zero":false},"axis":null},"size":{"value":144}}},
{"data":{"name":"xam"},"mark":{"type":"point","shape":"M0,0V-1","filled":false,"color":"black","strokeWidth":1.5,"opacity":1},
"encoding":{"x":{"field":"v","type":"quantitative","scale":{"domain":[0.4,1.23],"nice":false,"zero":false},"axis":null},
"y":{"datum":22.19,"type":"quantitative","scale":{"domain":[20,22.19],"reverse":true,"nice":false,"zero":false},"axis":null},"size":{"value":36}}},
{"data":{"name":"xaM"},"mark":{"type":"point","shape":"M0,0V1","filled":false,"color":"black","strokeWidth":1.5,"opacity":1},
"encoding":{"x":{"field":"v","type":"quantitative","scale":{"domain":[0.4,1.23],"nice":false,"zero":false},"axis":null},
"y":{"datum":20,"type":"quantitative","scale":{"domain":[20,22.19],"reverse":true,"nice":false,"zero":false},"axis":null},"size":{"value":144}}},
{"data":{"name":"xam"},"mark":{"type":"point","shape":"M0,0V1","filled":false,"color":"black","strokeWidth":1.5,"opacity":1},
"encoding":{"x":{"field":"v","type":"quantitative","scale":{"domain":[0.4,1.23],"nice":false,"zero":false},"axis":null},
"y":{"datum":20,"type":"quantitative","scale":{"domain":[20,22.19],"reverse":true,"nice":false,"zero":false},"axis":null},"size":{"value":36}}},
{"data":{"name":"ymM"},"mark":{"type":"point","shape":"M0,0H1","filled":false,"color":"black","strokeWidth":1.5,"opacity":1},
"encoding":{"y":{"field":"v","type":"quantitative","scale":{"domain":[20,22.19],"reverse":true,"nice":false,"zero":false},"axis":null},
"x":{"datum":0.4,"type":"quantitative","scale":{"domain":[0.4,1.23],"nice":false,"zero":false},"axis":null},"size":{"value":144}}},
{"data":{"name":"ymm"},"mark":{"type":"point","shape":"M0,0H1","filled":false,"color":"black","strokeWidth":1.5,"opacity":1},
"encoding":{"y":{"field":"v","type":"quantitative","scale":{"domain":[20,22.19],"reverse":true,"nice":false,"zero":false},"axis":null},
"x":{"datum":0.4,"type":"quantitative","scale":{"domain":[0.4,1.23],"nice":false,"zero":false},"axis":null},"size":{"value":36}}},
{"data":{"name":"ymM"},"mark":{"type":"point","shape":"M0,0H-1","filled":false,"color":"black","strokeWidth":1.5,"opacity":1},
"encoding":{"y":{"field":"v","type":"quantitative","scale":{"domain":[20,22.19],"reverse":true,"nice":false,"zero":false},"axis":null},
"x":{"datum":1.23,"type":"quantitative","scale":{"domain":[0.4,1.23],"nice":false,"zero":false},"axis":null},"size":{"value":144}}},
{"data":{"name":"ymm"},"mark":{"type":"point","shape":"M0,0H-1","filled":false,"color":"black","strokeWidth":1.5,"opacity":1},
"encoding":{"y":{"field":"v","type":"quantitative","scale":{"domain":[20,22.19],"reverse":true,"nice":false,"zero":false},"axis":null},
"x":{"datum":1.23,"type":"quantitative","scale":{"domain":[0.4,1.23],"nice":false,"zero":false},"axis":null},"size":{"value":36}}}
]},
{"width":204,"height":147,"resolve":{"axis":{"x":"independent","y":"independent"}},
"layer":[
{"data":{"name":"c_pts"},"mark":{"type":"point","shape":"square","filled":true,"size":8,"color":"black","opacity":1},
"encoding":{"x":{"field":"c","type":"quantitative","scale":{"domain":[0.385,1.235],"nice":false,"zero":false},
"axis":{"orient":"bottom","values":[0.5,0.6,0.7,0.8,0.9,1.0,1.1,1.2],"format":".1f","labelPadding":5,"title":"mF435W - mF814W","titlePadding":6}},
"y":{"field":"m","type":"quantitative","scale":{"domain":[20,22.19],"reverse":true,"nice":false,"zero":false},"axis":null}}},
{"data":{"name":"box"},"mark":{"type":"line","color":"#1f1fff","strokeWidth":1.5},
"encoding":{"x":{"field":"c","type":"quantitative","scale":{"domain":[0.385,1.235],"nice":false,"zero":false},"axis":null},
"y":{"field":"m","type":"quantitative","scale":{"domain":[20,22.19],"reverse":true,"nice":false,"zero":false},"axis":null},
"order":{"field":"o","type":"quantitative"}}},
{"data":{"name":"arrow"},"mark":{"type":"line","color":"#ff0000","strokeWidth":1.5},
"encoding":{"x":{"field":"c","type":"quantitative","scale":{"domain":[0.385,1.235],"nice":false,"zero":false},"axis":null},
"y":{"field":"m","type":"quantitative","scale":{"domain":[20,22.19],"reverse":true,"nice":false,"zero":false},"axis":null},
"order":{"field":"o","type":"quantitative"}}},
{"data":{"values":[{}]},"mark":{"type":"point","shape":"triangle-right","filled":true,"color":"#ff0000","size":35,"angle":22,"opacity":1},
"encoding":{"x":{"datum":0.875,"type":"quantitative","scale":{"domain":[0.385,1.235],"nice":false,"zero":false},"axis":null},
"y":{"datum":20.96,"type":"quantitative","scale":{"domain":[20,22.19],"reverse":true,"nice":false,"zero":false},"axis":null}}},
{"data":{"values":[{}]},"mark":{"type":"text","text":"(c)","align":"right","baseline":"middle","fontSize":11,"color":"black"},
"encoding":{"x":{"datum":1.19,"type":"quantitative","scale":{"domain":[0.385,1.235],"nice":false,"zero":false},"axis":null},
"y":{"datum":20.28,"type":"quantitative","scale":{"domain":[20,22.19],"reverse":true,"nice":false,"zero":false},"axis":null}}},
{"data":{"name":"xcM"},"mark":{"type":"point","shape":"M0,0V-1","filled":false,"color":"black","strokeWidth":1.5,"opacity":1},
"encoding":{"x":{"field":"v","type":"quantitative","scale":{"domain":[0.385,1.235],"nice":false,"zero":false},"axis":null},
"y":{"datum":22.19,"type":"quantitative","scale":{"domain":[20,22.19],"reverse":true,"nice":false,"zero":false},"axis":null},"size":{"value":144}}},
{"data":{"name":"xam"},"mark":{"type":"point","shape":"M0,0V-1","filled":false,"color":"black","strokeWidth":1.5,"opacity":1},
"encoding":{"x":{"field":"v","type":"quantitative","scale":{"domain":[0.385,1.235],"nice":false,"zero":false},"axis":null},
"y":{"datum":22.19,"type":"quantitative","scale":{"domain":[20,22.19],"reverse":true,"nice":false,"zero":false},"axis":null},"size":{"value":36}}},
{"data":{"name":"xcM"},"mark":{"type":"point","shape":"M0,0V1","filled":false,"color":"black","strokeWidth":1.5,"opacity":1},
"encoding":{"x":{"field":"v","type":"quantitative","scale":{"domain":[0.385,1.235],"nice":false,"zero":false},"axis":null},
"y":{"datum":20,"type":"quantitative","scale":{"domain":[20,22.19],"reverse":true,"nice":false,"zero":false},"axis":null},"size":{"value":144}}},
{"data":{"name":"xam"},"mark":{"type":"point","shape":"M0,0V1","filled":false,"color":"black","strokeWidth":1.5,"opacity":1},
"encoding":{"x":{"field":"v","type":"quantitative","scale":{"domain":[0.385,1.235],"nice":false,"zero":false},"axis":null},
"y":{"datum":20,"type":"quantitative","scale":{"domain":[20,22.19],"reverse":true,"nice":false,"zero":false},"axis":null},"size":{"value":36}}},
{"data":{"name":"ymM"},"mark":{"type":"point","shape":"M0,0H1","filled":false,"color":"black","strokeWidth":1.5,"opacity":1},
"encoding":{"y":{"field":"v","type":"quantitative","scale":{"domain":[20,22.19],"reverse":true,"nice":false,"zero":false},"axis":null},
"x":{"datum":0.385,"type":"quantitative","scale":{"domain":[0.385,1.235],"nice":false,"zero":false},"axis":null},"size":{"value":144}}},
{"data":{"name":"ymm"},"mark":{"type":"point","shape":"M0,0H1","filled":false,"color":"black","strokeWidth":1.5,"opacity":1},
"encoding":{"y":{"field":"v","type":"quantitative","scale":{"domain":[20,22.19],"reverse":true,"nice":false,"zero":false},"axis":null},
"x":{"datum":0.385,"type":"quantitative","scale":{"domain":[0.385,1.235],"nice":false,"zero":false},"axis":null},"size":{"value":36}}},
{"data":{"name":"ymM"},"mark":{"type":"point","shape":"M0,0H-1","filled":false,"color":"black","strokeWidth":1.5,"opacity":1},
"encoding":{"y":{"field":"v","type":"quantitative","scale":{"domain":[20,22.19],"reverse":true,"nice":false,"zero":false},"axis":null},
"x":{"datum":1.235,"type":"quantitative","scale":{"domain":[0.385,1.235],"nice":false,"zero":false},"axis":null},"size":{"value":144}}},
{"data":{"name":"ymm"},"mark":{"type":"point","shape":"M0,0H-1","filled":false,"color":"black","strokeWidth":1.5,"opacity":1},
"encoding":{"y":{"field":"v","type":"quantitative","scale":{"domain":[20,22.19],"reverse":true,"nice":false,"zero":false},"axis":null},
"x":{"datum":1.235,"type":"quantitative","scale":{"domain":[0.385,1.235],"nice":false,"zero":false},"axis":null},"size":{"value":36}}}
]}
]},
{"spacing":0,"hconcat":[
{"width":214,"height":114,"resolve":{"axis":{"x":"independent","y":"independent"}},
"layer":[
{"data":{"name":"bcurve"},"mark":{"type":"line","color":"black","strokeWidth":2},
"encoding":{"x":{"field":"age","type":"quantitative","scale":{"domain":[1.2,2.31],"nice":false,"zero":false},
"axis":{"orient":"bottom","values":[1.4,1.6,1.8,2.0,2.2],"format":".1f","labelPadding":5,"title":"Age (Gyr)","titlePadding":6}},
"y":{"field":"d","type":"quantitative","scale":{"domain":[-0.04,3.12],"nice":false,"zero":false},
"axis":{"orient":"left","values":[0,0.5,1,1.5,2,2.5,3],"format":".1f","labelPadding":5,"title":"Rel. Star Density in CMD","titlePadding":4,"minExtent":27,"maxExtent":27}}}},
{"data":{"values":[{}]},"mark":{"type":"rule","color":"#2020ff","strokeWidth":1.5,"strokeDash":[2,2]},
"encoding":{"y":{"datum":0,"type":"quantitative","scale":{"domain":[-0.04,3.12],"nice":false,"zero":false},"axis":null}}},
{"data":{"values":[{}]},"mark":{"type":"text","text":"(b)","align":"right","baseline":"middle","fontSize":11,"color":"black"},
"encoding":{"x":{"datum":2.25,"type":"quantitative","scale":{"domain":[1.2,2.31],"nice":false,"zero":false},"axis":null},
"y":{"datum":2.85,"type":"quantitative","scale":{"domain":[-0.04,3.12],"nice":false,"zero":false},"axis":null}}},
{"data":{"name":"agM"},"mark":{"type":"point","shape":"M0,0V-1","filled":false,"color":"black","strokeWidth":1.5,"opacity":1},
"encoding":{"x":{"field":"v","type":"quantitative","scale":{"domain":[1.2,2.31],"nice":false,"zero":false},"axis":null},
"y":{"datum":-0.04,"type":"quantitative","scale":{"domain":[-0.04,3.12],"nice":false,"zero":false},"axis":null},"size":{"value":144}}},
{"data":{"name":"agm"},"mark":{"type":"point","shape":"M0,0V-1","filled":false,"color":"black","strokeWidth":1.5,"opacity":1},
"encoding":{"x":{"field":"v","type":"quantitative","scale":{"domain":[1.2,2.31],"nice":false,"zero":false},"axis":null},
"y":{"datum":-0.04,"type":"quantitative","scale":{"domain":[-0.04,3.12],"nice":false,"zero":false},"axis":null},"size":{"value":36}}},
{"data":{"name":"agM"},"mark":{"type":"point","shape":"M0,0V1","filled":false,"color":"black","strokeWidth":1.5,"opacity":1},
"encoding":{"x":{"field":"v","type":"quantitative","scale":{"domain":[1.2,2.31],"nice":false,"zero":false},"axis":null},
"y":{"datum":3.12,"type":"quantitative","scale":{"domain":[-0.04,3.12],"nice":false,"zero":false},"axis":null},"size":{"value":144}}},
{"data":{"name":"agm"},"mark":{"type":"point","shape":"M0,0V1","filled":false,"color":"black","strokeWidth":1.5,"opacity":1},
"encoding":{"x":{"field":"v","type":"quantitative","scale":{"domain":[1.2,2.31],"nice":false,"zero":false},"axis":null},
"y":{"datum":3.12,"type":"quantitative","scale":{"domain":[-0.04,3.12],"nice":false,"zero":false},"axis":null},"size":{"value":36}}},
{"data":{"name":"ydM"},"mark":{"type":"point","shape":"M0,0H1","filled":false,"color":"black","strokeWidth":1.5,"opacity":1},
"encoding":{"y":{"field":"v","type":"quantitative","scale":{"domain":[-0.04,3.12],"nice":false,"zero":false},"axis":null},
"x":{"datum":1.2,"type":"quantitative","scale":{"domain":[1.2,2.31],"nice":false,"zero":false},"axis":null},"size":{"value":144}}},
{"data":{"name":"ydm"},"mark":{"type":"point","shape":"M0,0H1","filled":false,"color":"black","strokeWidth":1.5,"opacity":1},
"encoding":{"y":{"field":"v","type":"quantitative","scale":{"domain":[-0.04,3.12],"nice":false,"zero":false},"axis":null},
"x":{"datum":1.2,"type":"quantitative","scale":{"domain":[1.2,2.31],"nice":false,"zero":false},"axis":null},"size":{"value":36}}},
{"data":{"name":"ydM"},"mark":{"type":"point","shape":"M0,0H-1","filled":false,"color":"black","strokeWidth":1.5,"opacity":1},
"encoding":{"y":{"field":"v","type":"quantitative","scale":{"domain":[-0.04,3.12],"nice":false,"zero":false},"axis":null},
"x":{"datum":2.31,"type":"quantitative","scale":{"domain":[1.2,2.31],"nice":false,"zero":false},"axis":null},"size":{"value":144}}},
{"data":{"name":"ydm"},"mark":{"type":"point","shape":"M0,0H-1","filled":false,"color":"black","strokeWidth":1.5,"opacity":1},
"encoding":{"y":{"field":"v","type":"quantitative","scale":{"domain":[-0.04,3.12],"nice":false,"zero":false},"axis":null},
"x":{"datum":2.31,"type":"quantitative","scale":{"domain":[1.2,2.31],"nice":false,"zero":false},"axis":null},"size":{"value":36}}}
]},
{"width":204,"height":114,"resolve":{"axis":{"x":"independent","y":"independent"}},
"layer":[
{"data":{"name":"dcurve"},"mark":{"type":"line","color":"black","strokeWidth":2},
"encoding":{"x":{"field":"age","type":"quantitative","scale":{"domain":[1.23,2.29],"nice":false,"zero":false},
"axis":{"orient":"bottom","values":[1.4,1.6,1.8,2.0,2.2],"format":".1f","labelPadding":5,"title":"Age (Gyr)","titlePadding":6}},
"y":{"field":"d","type":"quantitative","scale":{"domain":[-0.04,3.12],"nice":false,"zero":false},"axis":null}}},
{"data":{"name":"ddot"},"mark":{"type":"line","color":"#808080","strokeWidth":1.5,"strokeDash":[1.5,2]},
"encoding":{"x":{"field":"age","type":"quantitative","scale":{"domain":[1.23,2.29],"nice":false,"zero":false},"axis":null},
"y":{"field":"d","type":"quantitative","scale":{"domain":[-0.04,3.12],"nice":false,"zero":false},"axis":null}}},
{"data":{"values":[{}]},"mark":{"type":"text","text":"(d)","align":"right","baseline":"middle","fontSize":11,"color":"black"},
"encoding":{"x":{"datum":2.24,"type":"quantitative","scale":{"domain":[1.23,2.29],"nice":false,"zero":false},"axis":null},
"y":{"datum":2.85,"type":"quantitative","scale":{"domain":[-0.04,3.12],"nice":false,"zero":false},"axis":null}}},
{"data":{"values":[{}]},"mark":{"type":"text","text":"0.65/0.35","align":"left","baseline":"middle","fontSize":10.5,"color":"black"},
"encoding":{"x":{"datum":1.27,"type":"quantitative","scale":{"domain":[1.23,2.29],"nice":false,"zero":false},"axis":null},
"y":{"datum":2.83,"type":"quantitative","scale":{"domain":[-0.04,3.12],"nice":false,"zero":false},"axis":null}}},
{"data":{"values":[{}]},"mark":{"type":"text","text":"N1783","align":"center","baseline":"middle","fontSize":10,"color":"#909090","angle":312},
"encoding":{"x":{"datum":1.523,"type":"quantitative","scale":{"domain":[1.23,2.29],"nice":false,"zero":false},"axis":null},
"y":{"datum":0.86,"type":"quantitative","scale":{"domain":[-0.04,3.12],"nice":false,"zero":false},"axis":null}}},
{"data":{"name":"agM"},"mark":{"type":"point","shape":"M0,0V-1","filled":false,"color":"black","strokeWidth":1.5,"opacity":1},
"encoding":{"x":{"field":"v","type":"quantitative","scale":{"domain":[1.23,2.29],"nice":false,"zero":false},"axis":null},
"y":{"datum":-0.04,"type":"quantitative","scale":{"domain":[-0.04,3.12],"nice":false,"zero":false},"axis":null},"size":{"value":144}}},
{"data":{"name":"agm"},"mark":{"type":"point","shape":"M0,0V-1","filled":false,"color":"black","strokeWidth":1.5,"opacity":1},
"encoding":{"x":{"field":"v","type":"quantitative","scale":{"domain":[1.23,2.29],"nice":false,"zero":false},"axis":null},
"y":{"datum":-0.04,"type":"quantitative","scale":{"domain":[-0.04,3.12],"nice":false,"zero":false},"axis":null},"size":{"value":36}}},
{"data":{"name":"agM"},"mark":{"type":"point","shape":"M0,0V1","filled":false,"color":"black","strokeWidth":1.5,"opacity":1},
"encoding":{"x":{"field":"v","type":"quantitative","scale":{"domain":[1.23,2.29],"nice":false,"zero":false},"axis":null},
"y":{"datum":3.12,"type":"quantitative","scale":{"domain":[-0.04,3.12],"nice":false,"zero":false},"axis":null},"size":{"value":144}}},
{"data":{"name":"agm"},"mark":{"type":"point","shape":"M0,0V1","filled":false,"color":"black","strokeWidth":1.5,"opacity":1},
"encoding":{"x":{"field":"v","type":"quantitative","scale":{"domain":[1.23,2.29],"nice":false,"zero":false},"axis":null},
"y":{"datum":3.12,"type":"quantitative","scale":{"domain":[-0.04,3.12],"nice":false,"zero":false},"axis":null},"size":{"value":36}}},
{"data":{"name":"ydM"},"mark":{"type":"point","shape":"M0,0H1","filled":false,"color":"black","strokeWidth":1.5,"opacity":1},
"encoding":{"y":{"field":"v","type":"quantitative","scale":{"domain":[-0.04,3.12],"nice":false,"zero":false},"axis":null},
"x":{"datum":1.23,"type":"quantitative","scale":{"domain":[1.23,2.29],"nice":false,"zero":false},"axis":null},"size":{"value":144}}},
{"data":{"name":"ydm"},"mark":{"type":"point","shape":"M0,0H1","filled":false,"color":"black","strokeWidth":1.5,"opacity":1},
"encoding":{"y":{"field":"v","type":"quantitative","scale":{"domain":[-0.04,3.12],"nice":false,"zero":false},"axis":null},
"x":{"datum":1.23,"type":"quantitative","scale":{"domain":[1.23,2.29],"nice":false,"zero":false},"axis":null},"size":{"value":36}}},
{"data":{"name":"ydM"},"mark":{"type":"point","shape":"M0,0H-1","filled":false,"color":"black","strokeWidth":1.5,"opacity":1},
"encoding":{"y":{"field":"v","type":"quantitative","scale":{"domain":[-0.04,3.12],"nice":false,"zero":false},"axis":null},
"x":{"datum":2.29,"type":"quantitative","scale":{"domain":[1.23,2.29],"nice":false,"zero":false},"axis":null},"size":{"value":144}}},
{"data":{"name":"ydm"},"mark":{"type":"point","shape":"M0,0H-1","filled":false,"color":"black","strokeWidth":1.5,"opacity":1},
"encoding":{"y":{"field":"v","type":"quantitative","scale":{"domain":[-0.04,3.12],"nice":false,"zero":false},"axis":null},
"x":{"datum":2.29,"type":"quantitative","scale":{"domain":[1.23,2.29],"nice":false,"zero":false},"axis":null},"size":{"value":36}}}
]}
]}
]
}
